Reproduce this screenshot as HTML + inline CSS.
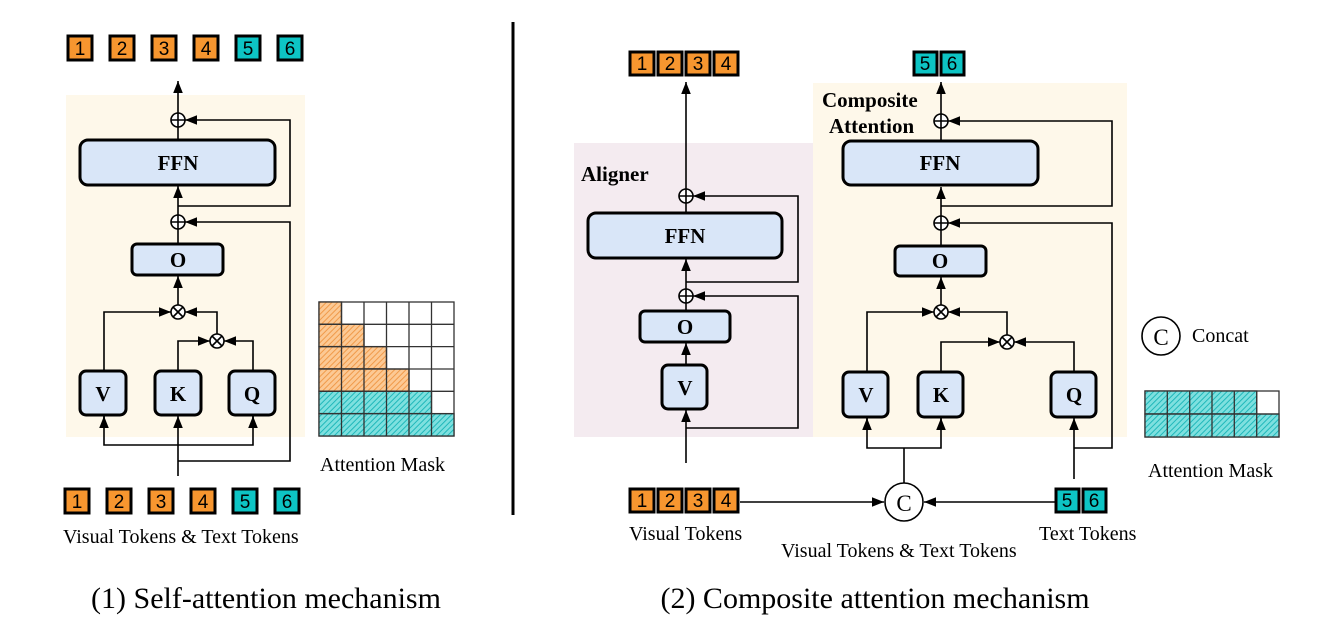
<!DOCTYPE html>
<html><head><meta charset="utf-8"><style>
html,body{margin:0;padding:0;background:#fff;}
svg{display:block;}
text{font-family:"Liberation Serif",serif;}
text.tk{font-family:"Liberation Sans",sans-serif;font-size:19px;fill:#000;text-anchor:middle;}
.bx{fill:#d9e6f8;stroke:#000;stroke-width:3;}
.bl{font-weight:bold;font-size:21px;text-anchor:middle;}
.ln{stroke:#000;stroke-width:1.6;fill:none;}
</style></head><body>
<svg width="1329" height="642" viewBox="0 0 1329 642" xmlns="http://www.w3.org/2000/svg">
<defs>
<marker id="b" viewBox="0 0 10 10" refX="10" refY="5" markerWidth="12" markerHeight="12" orient="auto-start-reverse" markerUnits="userSpaceOnUse"><path d="M0,1 L10,5 L0,9 z" fill="#000"/></marker>
<pattern id="ho" width="4" height="4" patternUnits="userSpaceOnUse" patternTransform="rotate(45)"><rect width="4" height="4" fill="#fcc994"/><line x1="0" y1="0" x2="0" y2="4" stroke="#f09a4a" stroke-width="2"/></pattern>
<pattern id="hc" width="4" height="4" patternUnits="userSpaceOnUse" patternTransform="rotate(45)"><rect width="4" height="4" fill="#7ee0df"/><line x1="0" y1="0" x2="0" y2="4" stroke="#20b8ba" stroke-width="2"/></pattern>
</defs>

<!-- LEFT PANEL -->
<rect x="66" y="95" width="239" height="342" fill="#fef8ea"/>
<g stroke="#000" stroke-width="3">
<rect x="68" y="36" width="24" height="24" fill="#f7962f"/>
<rect x="110" y="36" width="24" height="24" fill="#f7962f"/>
<rect x="152" y="36" width="24" height="24" fill="#f7962f"/>
<rect x="194" y="36" width="24" height="24" fill="#f7962f"/>
<rect x="236" y="36" width="24" height="24" fill="#0dc4c4"/>
<rect x="278" y="36" width="24" height="24" fill="#0dc4c4"/>
<rect x="65" y="489" width="24" height="24" fill="#f7962f"/>
<rect x="107" y="489" width="24" height="24" fill="#f7962f"/>
<rect x="149" y="489" width="24" height="24" fill="#f7962f"/>
<rect x="191" y="489" width="24" height="24" fill="#f7962f"/>
<rect x="233" y="489" width="24" height="24" fill="#0dc4c4"/>
<rect x="275" y="489" width="24" height="24" fill="#0dc4c4"/>
</g>
<g font-family="Liberation Sans, sans-serif">
<text class="tk" x="80" y="55">1</text><text class="tk" x="122" y="55">2</text><text class="tk" x="164" y="55">3</text><text class="tk" x="206" y="55">4</text><text class="tk" x="248" y="55">5</text><text class="tk" x="290" y="55">6</text>
<text class="tk" x="77" y="508">1</text><text class="tk" x="119" y="508">2</text><text class="tk" x="161" y="508">3</text><text class="tk" x="203" y="508">4</text><text class="tk" x="245" y="508">5</text><text class="tk" x="287" y="508">6</text>
</g>
<g class="ln">
<line x1="178" y1="113" x2="178" y2="81" marker-end="url(#b)"/>
<line x1="178" y1="140" x2="178" y2="127"/>
<polyline points="178,206 290,206 290,120 185,120" marker-end="url(#b)"/>
<line x1="178" y1="215" x2="178" y2="186" marker-end="url(#b)"/>
<polyline points="178,461 290,461 290,222 185,222" marker-end="url(#b)"/>
<line x1="178" y1="244" x2="178" y2="229"/>
<line x1="178" y1="305" x2="178" y2="276" marker-end="url(#b)"/>
<polyline points="104,371 104,312 171,312" marker-end="url(#b)"/>
<polyline points="217,334 217,312 185,312" marker-end="url(#b)"/>
<polyline points="178,371 178,341 210,341" marker-end="url(#b)"/>
<polyline points="253,371 253,341 224,341" marker-end="url(#b)"/>
<line x1="178" y1="476" x2="178" y2="416" marker-end="url(#b)"/>
<polyline points="104,416 104,445 253,445 253,416"/>
<line x1="104" y1="428" x2="104" y2="416" marker-end="url(#b)"/>
<line x1="253" y1="428" x2="253" y2="416" marker-end="url(#b)"/>
</g>
<g stroke="#000" stroke-width="1.6" fill="#fff">
<circle cx="178" cy="120" r="7"/><path d="M171,120h14M178,113v14"/>
<circle cx="178" cy="222" r="7"/><path d="M171,222h14M178,215v14"/>
<circle cx="178" cy="312" r="7"/><path d="M173,307l10,10M183,307l-10,10"/>
<circle cx="217" cy="341" r="7"/><path d="M212,336l10,10M222,336l-10,10"/>
</g>
<rect class="bx" x="80" y="140" width="195" height="45" rx="8"/>
<text class="bl" x="178" y="170">FFN</text>
<rect class="bx" x="132" y="244" width="91" height="31" rx="5"/>
<text class="bl" x="178" y="267">O</text>
<rect class="bx" x="80" y="371" width="46" height="44" rx="6"/>
<text class="bl" x="103" y="401">V</text>
<rect class="bx" x="155" y="371" width="46" height="44" rx="6"/>
<text class="bl" x="178" y="401">K</text>
<rect class="bx" x="229" y="371" width="46" height="44" rx="6"/>
<text class="bl" x="252" y="401">Q</text>

<g stroke="#333" stroke-width="1.3">
<rect x="319" y="302" width="135" height="134" fill="#fff"/>
<rect x="319" y="302" width="22.5" height="22.3" fill="url(#ho)"/>
<rect x="319" y="324.3" width="45" height="22.3" fill="url(#ho)"/>
<rect x="319" y="346.6" width="67.5" height="22.3" fill="url(#ho)"/>
<rect x="319" y="369" width="90" height="22.3" fill="url(#ho)"/>
<rect x="319" y="391.3" width="112.5" height="22.3" fill="url(#hc)"/>
<rect x="319" y="413.6" width="135" height="22.4" fill="url(#hc)"/>
<path d="M341.5,302V436M364,302V436M386.5,302V436M409,302V436M431.5,302V436M319,324.3H454M319,346.6H454M319,369H454M319,391.3H454M319,413.6H454" fill="none"/>
</g>
<text x="320" y="471" font-size="20">Attention Mask</text>
<text x="63" y="543" font-size="20">Visual Tokens &amp; Text Tokens</text>
<text x="266" y="608" font-size="30" text-anchor="middle">(1) Self-attention mechanism</text>

<line x1="513" y1="22" x2="513" y2="515" stroke="#000" stroke-width="3"/>

<rect x="574" y="143" width="239" height="294" fill="#f4ebf0"/>
<rect x="813" y="83" width="314" height="354" fill="#fef8ea"/>

<g stroke="#000" stroke-width="3">
<rect x="630" y="52" width="24" height="23" fill="#f7962f"/>
<rect x="658" y="52" width="24" height="23" fill="#f7962f"/>
<rect x="686" y="52" width="24" height="23" fill="#f7962f"/>
<rect x="714" y="52" width="24" height="23" fill="#f7962f"/>
<rect x="914" y="52" width="23" height="23" fill="#0dc4c4"/>
<rect x="941" y="52" width="23" height="23" fill="#0dc4c4"/>
<rect x="630" y="489" width="24" height="23" fill="#f7962f"/>
<rect x="658" y="489" width="24" height="23" fill="#f7962f"/>
<rect x="686" y="489" width="24" height="23" fill="#f7962f"/>
<rect x="714" y="489" width="24" height="23" fill="#f7962f"/>
<rect x="1056" y="489" width="23" height="23" fill="#0dc4c4"/>
<rect x="1083" y="489" width="23" height="23" fill="#0dc4c4"/>
</g>
<g font-family="Liberation Sans, sans-serif">
<text class="tk" x="642" y="70">1</text><text class="tk" x="670" y="70">2</text><text class="tk" x="698" y="70">3</text><text class="tk" x="726" y="70">4</text>
<text class="tk" x="925" y="70">5</text><text class="tk" x="952" y="70">6</text>
<text class="tk" x="642" y="507">1</text><text class="tk" x="670" y="507">2</text><text class="tk" x="698" y="507">3</text><text class="tk" x="726" y="507">4</text>
<text class="tk" x="1067" y="507">5</text><text class="tk" x="1094" y="507">6</text>
</g>

<g class="ln">
<line x1="686" y1="189" x2="686" y2="82" marker-end="url(#b)"/>
<line x1="686" y1="213" x2="686" y2="203"/>
<polyline points="686,282 798,282 798,196 693,196" marker-end="url(#b)"/>
<line x1="686" y1="289" x2="686" y2="259" marker-end="url(#b)"/>
<polyline points="686,428 798,428 798,296 693,296" marker-end="url(#b)"/>
<line x1="686" y1="311" x2="686" y2="303"/>
<line x1="686" y1="365" x2="686" y2="343" marker-end="url(#b)"/>
<line x1="686" y1="463" x2="686" y2="410" marker-end="url(#b)"/>
</g>
<g stroke="#000" stroke-width="1.6" fill="#fff">
<circle cx="686" cy="196" r="7"/><path d="M679,196h14M686,189v14"/>
<circle cx="686" cy="296" r="7"/><path d="M679,296h14M686,289v14"/>
</g>
<rect class="bx" x="588" y="213" width="194" height="45" rx="8"/>
<text class="bl" x="685" y="243">FFN</text>
<rect class="bx" x="640" y="311" width="90" height="31" rx="5"/>
<text class="bl" x="685" y="334">O</text>
<rect class="bx" x="662" y="365" width="45" height="44" rx="6"/>
<text class="bl" x="685" y="395">V</text>
<text x="581" y="181" font-size="21" font-weight="bold">Aligner</text>

<g class="ln">
<line x1="941" y1="114" x2="941" y2="82" marker-end="url(#b)"/>
<line x1="941" y1="141" x2="941" y2="128"/>
<polyline points="941,206 1112,206 1112,121 948,121" marker-end="url(#b)"/>
<line x1="941" y1="216" x2="941" y2="187" marker-end="url(#b)"/>
<polyline points="1074,448 1112,448 1112,223 948,223" marker-end="url(#b)"/>
<line x1="941" y1="246" x2="941" y2="230"/>
<line x1="941" y1="305" x2="941" y2="277" marker-end="url(#b)"/>
<polyline points="867,372 867,312 934,312" marker-end="url(#b)"/>
<polyline points="1007,335 1007,312 948,312" marker-end="url(#b)"/>
<polyline points="941,372 941,342 1000,342" marker-end="url(#b)"/>
<polyline points="1074,372 1074,342 1014,342" marker-end="url(#b)"/>
<polyline points="867,418 867,448 941,448 941,418"/>
<line x1="867" y1="430" x2="867" y2="418" marker-end="url(#b)"/>
<line x1="941" y1="430" x2="941" y2="418" marker-end="url(#b)"/>
<line x1="904" y1="448" x2="904" y2="483"/>
<line x1="1074" y1="479" x2="1074" y2="418" marker-end="url(#b)"/>
<line x1="740" y1="502" x2="884" y2="502" marker-end="url(#b)"/>
<line x1="1055" y1="502" x2="924" y2="502" marker-end="url(#b)"/>
</g>
<g stroke="#000" stroke-width="1.6" fill="#fff">
<circle cx="941" cy="121" r="7"/><path d="M934,121h14M941,114v14"/>
<circle cx="941" cy="223" r="7"/><path d="M934,223h14M941,216v14"/>
<circle cx="941" cy="312" r="7"/><path d="M936,307l10,10M946,307l-10,10"/>
<circle cx="1007" cy="342" r="7"/><path d="M1002,337l10,10M1012,337l-10,10"/>
<circle cx="904" cy="502" r="19"/>
<circle cx="1161" cy="336" r="19"/>
</g>
<text x="904" y="511" font-size="23" text-anchor="middle">C</text>
<text x="1161" y="345" font-size="23" text-anchor="middle">C</text>
<text x="1192" y="342" font-size="20">Concat</text>
<rect class="bx" x="843" y="141" width="195" height="44" rx="8"/>
<text class="bl" x="940" y="170">FFN</text>
<rect class="bx" x="895" y="246" width="91" height="30" rx="5"/>
<text class="bl" x="940" y="268">O</text>
<rect class="bx" x="843" y="372" width="45" height="45" rx="6"/>
<text class="bl" x="866" y="402">V</text>
<rect class="bx" x="918" y="372" width="45" height="45" rx="6"/>
<text class="bl" x="941" y="402">K</text>
<rect class="bx" x="1051" y="372" width="45" height="45" rx="6"/>
<text class="bl" x="1074" y="402">Q</text>
<text x="822" y="107" font-size="21" font-weight="bold">Composite</text>
<text x="829" y="133" font-size="21" font-weight="bold">Attention</text>

<g stroke="#333" stroke-width="1.3">
<rect x="1145" y="391" width="134" height="46" fill="#fff"/>
<rect x="1145" y="391" width="111.7" height="23" fill="url(#hc)"/>
<rect x="1145" y="414" width="134" height="23" fill="url(#hc)"/>
<path d="M1167.3,391V437M1189.7,391V437M1212,391V437M1234.3,391V437M1256.7,391V437M1145,414H1279" fill="none"/>
</g>
<text x="1148" y="477" font-size="20">Attention Mask</text>

<text x="629" y="540" font-size="20">Visual Tokens</text>
<text x="1039" y="540" font-size="20">Text Tokens</text>
<text x="781" y="557" font-size="20">Visual Tokens &amp; Text Tokens</text>
<text x="875" y="608" font-size="30" text-anchor="middle">(2) Composite attention mechanism</text>
</svg>
</body></html>
